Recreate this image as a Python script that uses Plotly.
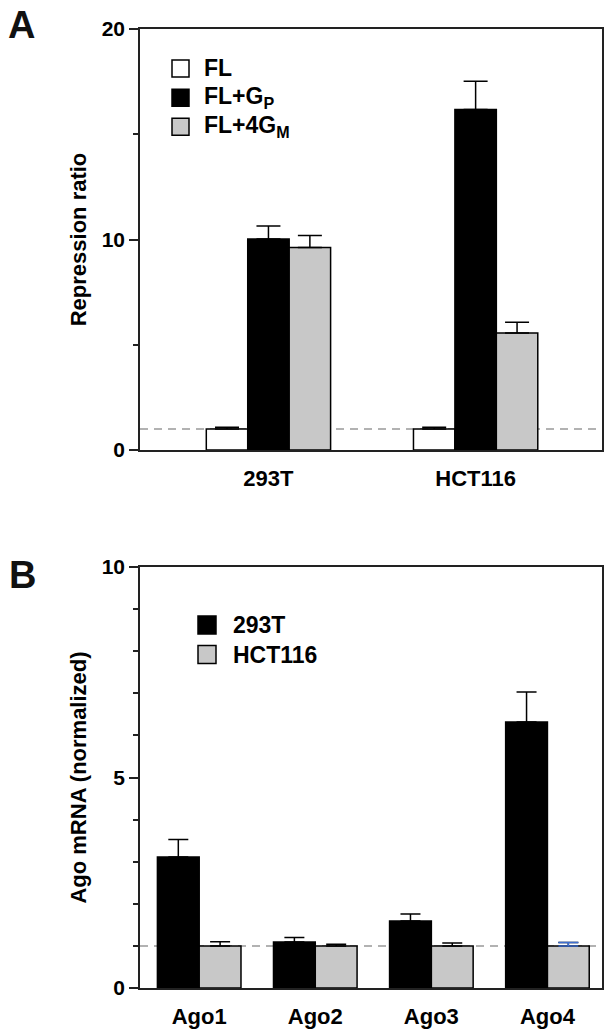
import plotly.graph_objects as go

# ---------------- data ----------------
cells = ["293T", "HCT116"]
fl_vals = [1.0, 1.0]
fl_err = [0.08, 0.08]
gp_vals = [10.02, 16.17]
gp_err = [0.62, 1.35]
gm_vals = [9.62, 5.56]
gm_err = [0.57, 0.51]

agos = ["Ago1", "Ago2", "Ago3", "Ago4"]
t293_vals = [3.11, 1.09, 1.59, 6.32]
t293_err = [0.42, 0.11, 0.17, 0.71]
hct_vals = [1.0, 1.0, 1.0, 1.0]
hct_err = [0.10, 0.04, 0.07, 0.08]

legend_a = ["FL", "FL+G<sub>P</sub>", "FL+4G<sub>M</sub>"]
legend_b = ["293T", "HCT116"]

# ---------------- styling ----------------
W, H = 614, 1036
FONT = "Liberation Sans, Arial, Helvetica, sans-serif"
WHITE, BLACK, GRAY = "#ffffff", "#000000", "#c8c8c8"
AXC = "#222222"


def px(x, y):
    return x / W, 1 - y / H


fig = go.Figure()


def add_bars(xcats, vals, errs, color, offset, width, xa, ya, errcolor=BLACK, cap=12):
    fig.add_trace(go.Bar(
        x=xcats, y=vals, xaxis=xa, yaxis=ya,
        offset=offset, width=width,
        marker=dict(color=color, line=dict(color=BLACK, width=1.5)),
        error_y=dict(type="data", array=errs, arrayminus=[0] * len(errs),
                     symmetric=False, color=errcolor, thickness=1.5, width=cap),
        showlegend=False, hoverinfo="skip",
    ))


# Panel A: 3 bars per group, group width 0.6
wa = 0.2
add_bars(cells, fl_vals, fl_err, WHITE, -0.3, wa, "x", "y")
add_bars(cells, gp_vals, gp_err, BLACK, -0.1, wa, "x", "y")
add_bars(cells, gm_vals, gm_err, GRAY, 0.1, wa, "x", "y")

# Panel B: 2 bars per group, group width 0.72
wb = 0.36
add_bars(agos, t293_vals, t293_err, BLACK, -0.36, wb, "x2", "y2", cap=10)
add_bars(agos, hct_vals, hct_err, GRAY, 0.0, wb, "x2", "y2", cap=10)
# the last HCT116 error bar is drawn in blue in the original
fig.add_trace(go.Bar(
    x=[agos[3]], y=[hct_vals[3]], xaxis="x2", yaxis="y2", offset=0.0, width=wb,
    marker=dict(color="rgba(0,0,0,0)", line=dict(width=0)),
    error_y=dict(type="data", array=[hct_err[3]], arrayminus=[0], symmetric=False,
                 color="#3f6fd0", thickness=1.5, width=10),
    showlegend=False, hoverinfo="skip",
))

xd = [140 / W, 602 / W]
tickfont = dict(family=FONT, size=21, color=BLACK, weight="bold")
catfont = dict(family=FONT, size=22, color=BLACK, weight="bold")
titlefont = dict(family=FONT, size=22, color=BLACK, weight="bold")
axcommon = dict(showline=True, linecolor=AXC, linewidth=1.5, mirror=True,
                showgrid=False, zeroline=False, automargin=False)

fig.update_layout(
    width=W, height=H, margin=dict(l=0, r=0, t=0, b=0, autoexpand=False),
    paper_bgcolor="white", plot_bgcolor="white",
    barmode="overlay", showlegend=False,
    font=dict(family=FONT, color=BLACK),
    xaxis=dict(domain=xd, anchor="y", type="category", range=[-0.62, 1.61],
               ticks="", tickfont=catfont, ticklabelstandoff=8, **axcommon),
    yaxis=dict(domain=[1 - 450 / H, 1 - 29 / H], anchor="x", range=[0, 20],
               tickvals=[0, 10, 20], ticks="outside", ticklen=9, tickwidth=1.5,
               tickcolor=AXC, tickfont=tickfont,
               minor=dict(dtick=5, ticks="outside", ticklen=5, tickwidth=1.5, tickcolor=AXC),
               title=dict(text="Repression ratio", standoff=9, font=titlefont),
               **axcommon),
    xaxis2=dict(domain=xd, anchor="y2", type="category", range=[-0.51, 3.47],
                ticks="", tickfont=catfont, ticklabelstandoff=8, **axcommon),
    yaxis2=dict(domain=[1 - 988 / H, 1 - 567 / H], anchor="x2", range=[0, 10],
                tickvals=[0, 5, 10], ticks="outside", ticklen=9, tickwidth=1.5,
                tickcolor=AXC, tickfont=tickfont,
                minor=dict(dtick=1, ticks="outside", ticklen=5, tickwidth=1.5, tickcolor=AXC),
                title=dict(text="Ago mRNA (normalized)", standoff=9, font=titlefont),
                **axcommon),
)

# dashed reference lines at 1
for ya, xa in (("y", "x"), ("y2", "x2")):
    fig.add_shape(type="line", xref=f"{xa} domain", yref=ya, x0=0, x1=1, y0=1, y1=1,
                  line=dict(color="#999999", width=1.5, dash="8px,6px"), layer="below")


# manual legends
def legend(entries, colors, box_x0, box_x1, centers, text_x, size):
    for label, col, cy in zip(entries, colors, centers):
        half = (box_x1 - box_x0) / 2
        x0, y0 = px(box_x0, cy + half)
        x1, y1 = px(box_x1, cy - half)
        fig.add_shape(type="rect", xref="paper", yref="paper", x0=x0, x1=x1, y0=y0, y1=y1,
                      fillcolor=col, line=dict(color=BLACK, width=1.5))
        tx, ty = px(text_x, cy)
        fig.add_annotation(xref="paper", yref="paper", x=tx, y=ty, text=label,
                           showarrow=False, xanchor="left", yanchor="middle",
                           font=dict(family=FONT, size=size, color=BLACK, weight="bold"))


legend(legend_a, [WHITE, BLACK, GRAY], 172, 189, [68.5, 97.7, 126.7], 202, 23)
legend(legend_b, [BLACK, GRAY], 198, 216, [625, 654.5], 231, 23)

# panel letters
for letter, (lx, ly) in (("A", (6, 25)), ("B", (7, 575))):
    x, y = px(lx, ly)
    fig.add_annotation(xref="paper", yref="paper", x=x, y=y, text=letter, showarrow=False,
                       xanchor="left", yanchor="middle",
                       font=dict(family=FONT, size=38, color="#111111", weight="bold"))

fig.write_html("out.html", config={"displayModeBar": False},
               post_script="document.body.style.margin='0';document.body.style.overflow='hidden';")
